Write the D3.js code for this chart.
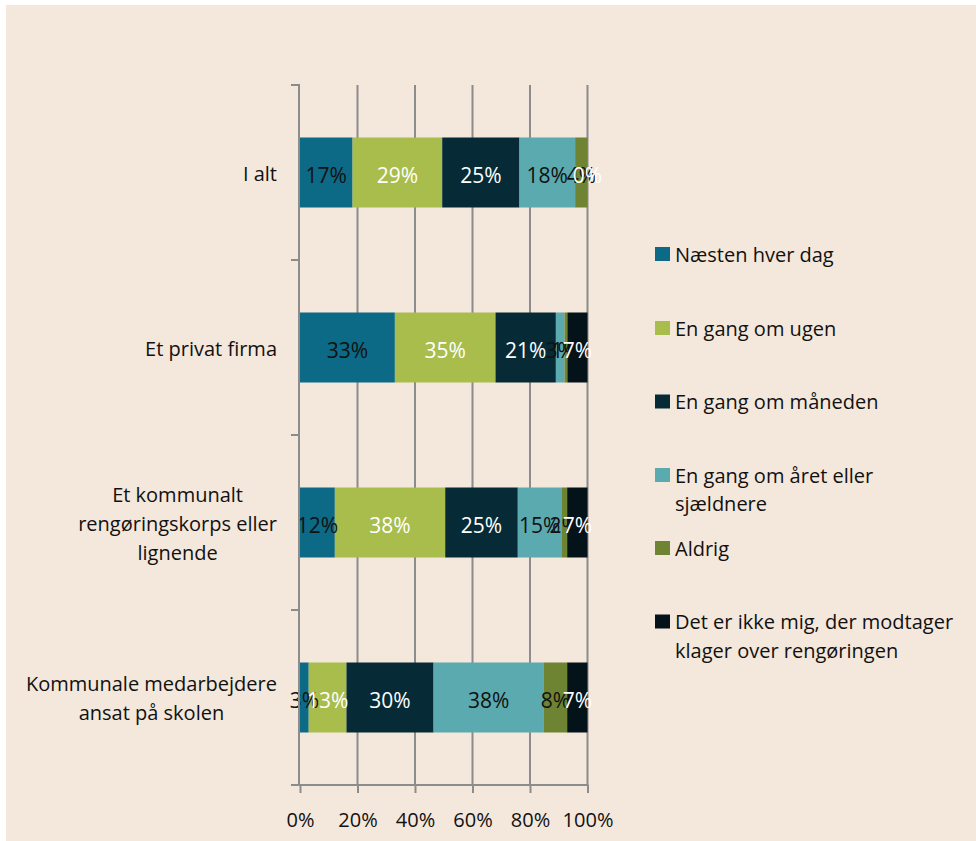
<!DOCTYPE html>
<html>
<head>
<meta charset="utf-8">
<script src="https://cdn.jsdelivr.net/npm/d3@7"></script>
<style>
  body { margin: 0; background: #ffffff; }
  text { font-family: "Open Sans", "Noto Sans", sans-serif; }
</style>
</head>
<body>
<div id="chart"></div>
<script>
// categories, top to bottom (each entry is one label, split in lines)
var categories = [
       ["I alt"],
       ["Et privat firma"],
       ["Et kommunalt", "rengøringskorps eller", "lignende"],
       ["Kommunale medarbejdere", "ansat på skolen"]
];

// series names (legend), split in lines
var seriesNames = [
       ["Næsten hver dag"],
       ["En gang om ugen"],
       ["En gang om måneden"],
       ["En gang om året eller", "sjældnere"],
       ["Aldrig"],
       ["Det er ikke mig, der modtager", "klager over rengøringen"]
];

// percentages per category, same order as seriesNames
var naestenHverDag = [17, 33, 12, 3];
var ugen = [29, 35, 38, 13];
var maaneden = [25, 21, 25, 30];
var aaret = [18, 3, 15, 38];
var aldrig = [4, 1, 2, 8];
var ikkeMig = [0, 7, 7, 7];

var xTicks = [0, 0.2, 0.4, 0.6, 0.8, 1];

var colors = ["#0c6a86", "#a8bd4c", "#062b36", "#5baab0", "#6e8433", "#04121a"];
var labelColors = ["#111", "#fff", "#fff", "#111", "#111", "#fff"];

var W = 976, H = 841;
var fontSize = 20;

var svg = d3.select("#chart")
       .append("svg")
       .attr("width", W)
       .attr("height", H);

// chart background (thin white strip top and left)
svg.append("rect")
       .attr("x", 6).attr("y", 5)
       .attr("width", W - 6).attr("height", H - 5)
       .style("fill", "#f4e7db");

// build table
var keys = ["s0", "s1", "s2", "s3", "s4", "s5"];
var allSeries = [naestenHverDag, ugen, maaneden, aaret, aldrig, ikkeMig];
var rows = categories.map(function (c, i) {
       var r = { cat: i };
       keys.forEach(function (k, j) { r[k] = allSeries[j][i]; });
       return r;
});

var stacked = d3.stack()
       .keys(keys)
       .offset(d3.stackOffsetExpand)(rows);

var x = d3.scaleLinear()
       .domain([0, 1])
       .range([300, 587.5]);

var y = d3.scaleBand()
       .domain(d3.range(categories.length))
       .range([85, 785])
       .paddingInner(0.6)
       .paddingOuter(0.3);

var gridColor = "#8c8c8c";

// vertical grid lines
svg.append("g")
       .selectAll("line")
       .data(xTicks.slice(1))
       .join("line")
       .attr("x1", function (d) { return x(d); })
       .attr("x2", function (d) { return x(d); })
       .attr("y1", 85)
       .attr("y2", 785)
       .style("stroke", gridColor)
       .style("stroke-width", 2);

// bars
svg.append("g")
       .selectAll("g")
       .data(stacked)
       .join("g")
       .style("fill", function (d, i) { return colors[i]; })
       .selectAll("rect")
       .data(function (d) { return d; })
       .join("rect")
       .attr("x", function (d) { return x(d[0]); })
       .attr("width", function (d) { return x(d[1]) - x(d[0]); })
       .attr("y", function (d) { return y(d.data.cat); })
       .attr("height", y.bandwidth());

// data labels
stacked.forEach(function (s, i) {
       svg.append("g")
              .selectAll("text")
              .data(s)
              .join("text")
              .attr("x", function (d) { return (x(d[0]) + x(d[1])) / 2; })
              .attr("y", function (d) { return y(d.data.cat) + y.bandwidth() / 2; })
              .attr("dy", "0.5em")
              .attr("text-anchor", "middle")
              .style("font-size", "21px")
              .style("fill", labelColors[i])
              .text(function (d) { return d.data[s.key] + "%"; });
});

// x axis
var xAxis = svg.append("g")
       .attr("transform", "translate(0,785)")
       .call(d3.axisBottom(x)
              .tickValues(xTicks)
              .tickFormat(d3.format(".0%"))
              .tickSize(8)
              .tickPadding(20));
xAxis.select(".domain").remove();
xAxis.selectAll("line").style("stroke", gridColor).style("stroke-width", 2);
xAxis.selectAll("text")
       .style("font-size", fontSize + "px")
       .style("fill", "#111");
svg.append("line")
       .attr("x1", 291).attr("x2", x(1) + 1)
       .attr("y1", 785).attr("y2", 785)
       .style("stroke", gridColor)
       .style("stroke-width", 2);

// y axis with ticks between categories
svg.append("line")
       .attr("x1", 299).attr("x2", 299)
       .attr("y1", 84).attr("y2", 786)
       .style("stroke", gridColor)
       .style("stroke-width", 2);
svg.append("g")
       .selectAll("line")
       .data(d3.range(categories.length + 1))
       .join("line")
       .attr("x1", 291).attr("x2", 299)
       .attr("y1", function (i) { return 85 + i * y.step(); })
       .attr("y2", function (i) { return 85 + i * y.step(); })
       .style("stroke", gridColor)
       .style("stroke-width", 2);

// category labels: right edge at 277, multi-line centred
var lineH = 29;
categories.forEach(function (lines, i) {
       var cy = y(i) + y.bandwidth() / 2;
       var t = svg.append("text")
              .style("font-size", fontSize + "px")
              .style("fill", "#111");
       lines.forEach(function (l, j) {
              t.append("tspan")
                     .attr("y", cy + (j - (lines.length - 1) / 2) * lineH)
                     .attr("dy", "0.42em")
                     .text(l);
       });
       var wMax = 0;
       t.selectAll("tspan").each(function () {
              wMax = Math.max(wMax, this.getComputedTextLength());
       });
       if (lines.length == 1) {
              t.attr("text-anchor", "end");
              t.selectAll("tspan").attr("x", 277);
       } else {
              t.attr("text-anchor", "middle");
              t.selectAll("tspan").attr("x", 277 - wMax / 2);
       }
});

// legend
var legendY = [254, 328, 401.5, 475, 548, 621.5];
var legend = svg.append("g");
seriesNames.forEach(function (lines, i) {
       legend.append("rect")
              .attr("x", 655)
              .attr("y", legendY[i] - 7)
              .attr("width", 15)
              .attr("height", 14)
              .style("fill", colors[i]);
       var t = legend.append("text")
              .style("font-size", fontSize + "px")
              .style("fill", "#111");
       lines.forEach(function (l, j) {
              t.append("tspan")
                     .attr("x", 675)
                     .attr("y", legendY[i] + j * 28.5)
                     .attr("dy", "0.39em")
                     .text(l);
       });
});
</script>
</body>
</html>
